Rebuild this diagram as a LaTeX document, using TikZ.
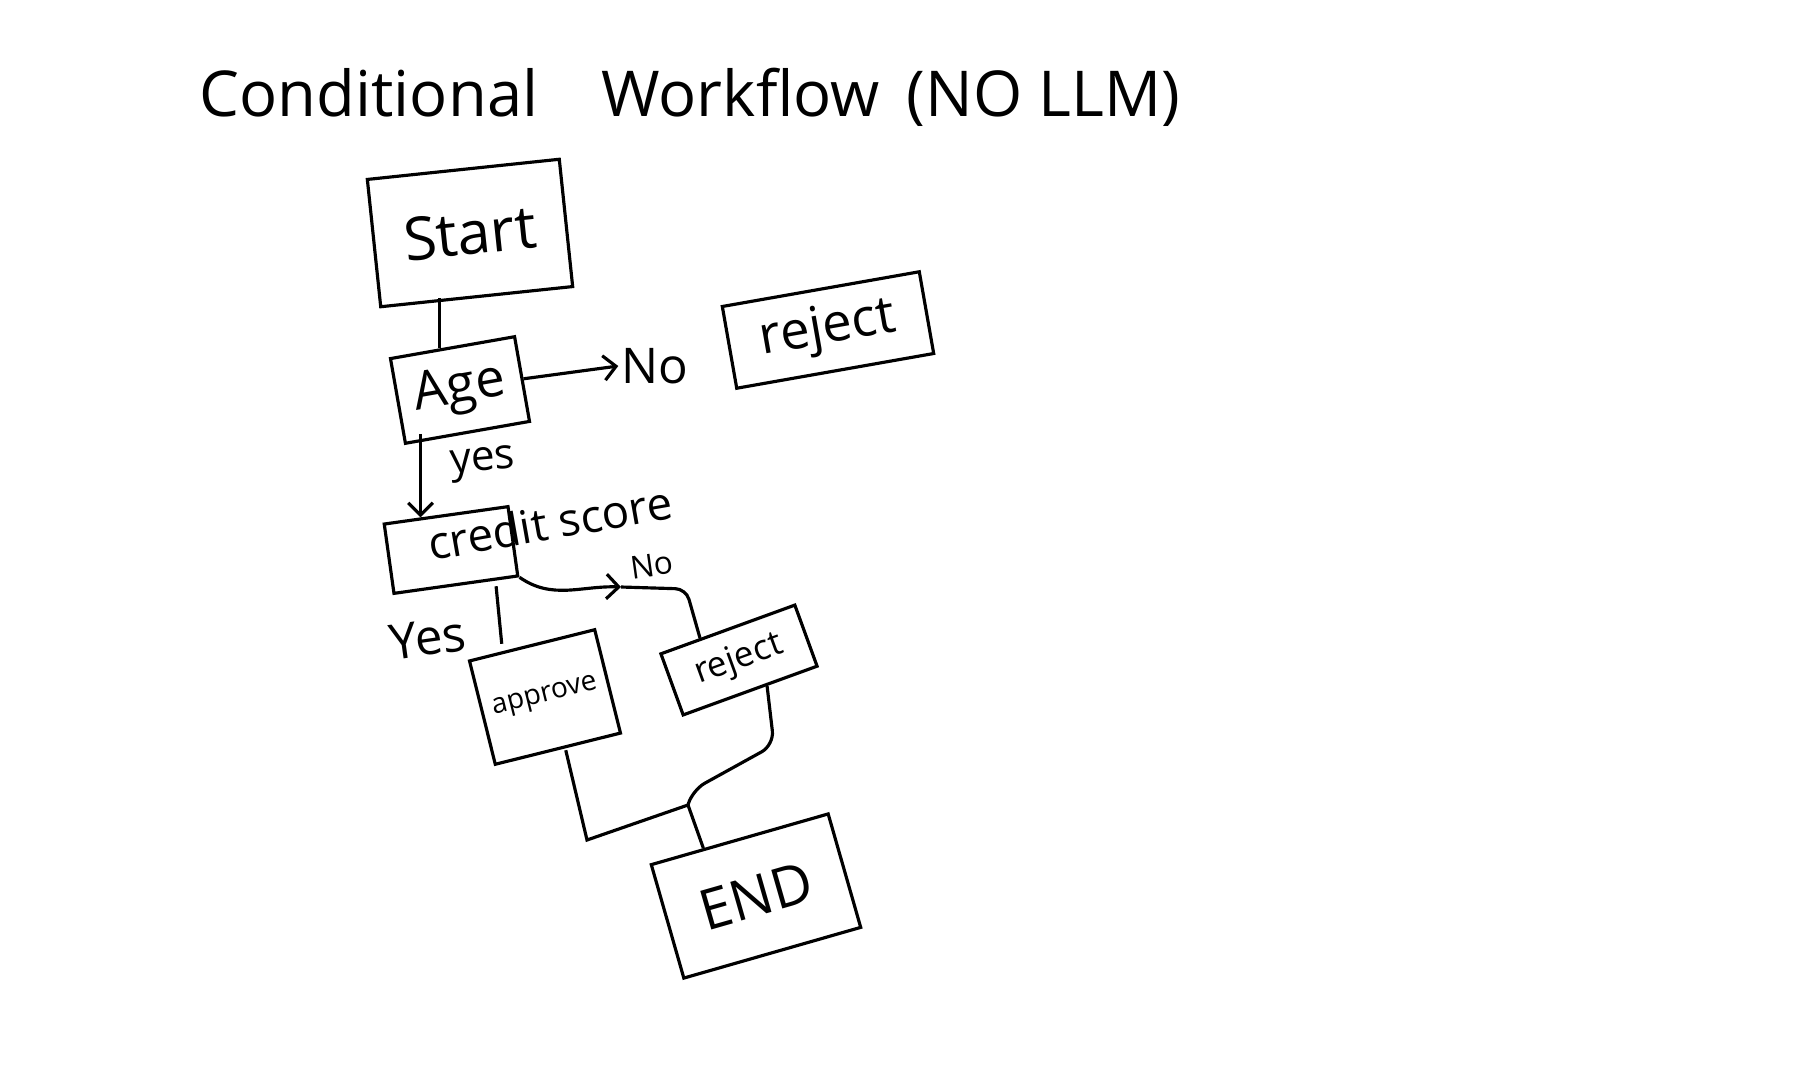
\documentclass[tikz,border=0pt]{standalone}
\usepackage{fontspec}
\setmainfont{Open Sans}
\usetikzlibrary{arrows.meta,calc}

\begin{document}
\begin{tikzpicture}[
    box/.style={draw, line width=1.8pt, inner sep=0pt},
    lbl/.style={inner sep=1pt},
    arr/.style={-{Straight Barb[length=7pt,width=14pt]}},
    line width=1.8pt
]
    \useasboundingbox (0,0) rectangle (36.06,-21.48);

    % Titulo
    \node[lbl, font=\fontsize{36}{44}\selectfont] (titulo) at (13.8,-1.95) {Conditional\quad Workflow\, (NO LLM)};

    % Caixa 1 - Start
    \node[box, minimum width=3.86cm, minimum height=2.56cm, rotate=6, font=\fontsize{34}{40}\selectfont] (start) at (9.4,-4.66) {Start};

    % Caixa 2 - Age
    \node[box, minimum width=2.52cm, minimum height=1.72cm, rotate=10, font=\fontsize{30}{36}\selectfont] (age) at (9.2,-7.8) {Age};

    % Caixa 3 - reject (ramo No de Age)
    \node[box, minimum width=4.0cm, minimum height=1.66cm, rotate=10, font=\fontsize{30}{36}\selectfont] (reject1) at (16.56,-6.6) {reject};

    % Rotulos No / yes de Age
    \node[lbl, font=\fontsize{28}{32}\selectfont] (no1) at (13.1,-7.32) {No};
    \node[lbl, font=\fontsize{24}{28}\selectfont, rotate=5] (yes1) at (9.66,-9.28) {yes};

    % Caixa 4 - credit score
    \node[box, minimum width=2.5cm, minimum height=1.4cm, rotate=8] (credit) at (9.02,-11.0) {};
    \node[lbl, font=\fontsize{26}{30}\selectfont, rotate=10] (score) at (11.0,-10.45) {credit score};

    % Rotulos No / Yes de credit score
    \node[lbl, font=\fontsize{18}{22}\selectfont, rotate=8] (no2) at (13.04,-11.3) {No};
    \node[lbl, font=\fontsize{28}{32}\selectfont, rotate=8] (yes2) at (8.56,-12.76) {Yes};

    % Caixa 5 - approve
    \node[box, minimum width=2.58cm, minimum height=2.13cm, rotate=14, font=\fontsize{16}{20}\selectfont] (approve) at (10.9,-13.94) {approve};

    % Caixa 6 - reject (ramo No de credit score)
    \node[box, minimum width=2.85cm, minimum height=1.3cm, rotate=20, font=\fontsize{20}{24}\selectfont] (reject2) at (14.78,-13.2) {reject};

    % Caixa 7 - END
    \node[box, minimum width=3.68cm, minimum height=2.36cm, rotate=16, font=\fontsize{32}{38}\selectfont] (fim) at (15.12,-17.92) {END};

    % Pontos de dobra das ligacoes
    \coordinate (agetop) at ($(age.north west)!0.4!(age.north east)$);
    \coordinate (credtop) at ($(credit.north west)!0.3!(credit.north east)$);
    \coordinate (n2tip) at (12.42,-11.74);
    \coordinate (n2turn) at (13.72,-11.78);
    \coordinate (apbend) at (11.74,-16.8);
    \coordinate (r2bend) at (15.48,-14.9);
    \coordinate (r2join) at (13.85,-15.8);
    \coordinate (join) at (13.76,-16.1);

    % Ligacoes
    \draw (agetop |- start.south) -- (agetop);
    \draw[arr] (age.east) -- (no1.west);
    \draw[arr] (credtop |- age.south) -- (credtop);
    \draw ([xshift=0.8cm]credit.south) -- ([xshift=-0.6cm]approve.north);
    \draw[arr] (credit.south east) to[out=-35,in=178] (n2tip);
    \draw[rounded corners=6pt] (n2tip) -- (n2turn) -- ($(reject2.north west)!0.3!(reject2.north east)$);
    \draw ([xshift=0.15cm]approve.south) -- (apbend) -- (join) -- ($(fim.north west)!0.3!(fim.north east)$);
    \draw[rounded corners=8pt] ($(reject2.south west)!0.62!(reject2.south east)$) -- (r2bend) -- (r2join) -- (join);
\end{tikzpicture}
\end{document}
